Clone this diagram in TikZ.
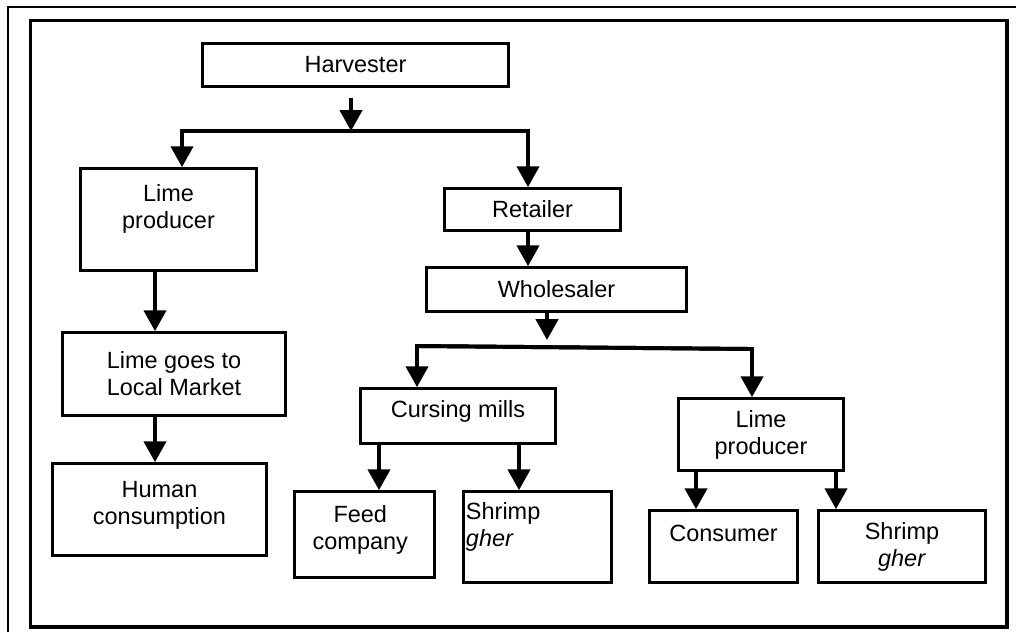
\documentclass[tikz,border=0pt]{standalone}
\usepackage{fontspec}
\setmainfont{Liberation Sans}
\usetikzlibrary{arrows.meta,calc}

\begin{document}
\begin{tikzpicture}[x=0.025cm,y=-0.025cm,
        font=\fontsize{16.7}{19.2}\selectfont,
        box/.style 2 args={draw,line width=1.9pt,inner sep=0pt,align=center,
            minimum width=#1*0.025cm,minimum height=#2*0.025cm},
        flow/.style={line width=2.8pt,-{Triangle[length=5.2mm,width=5.5mm]}}]
    \useasboundingbox (0,0) rectangle (1016,632);

    % frames
    \draw[line width=0.9pt] (8,632) -- (8,7) -- (1016,7);
    \draw[line width=2.4pt] (30.5,20.5) rectangle (1007,627);

    % boxes
    \node[box={306}{43}] (harv) at (355.5,65) {Harvester};
    \node[box={176}{102},label={[yshift=7.5pt,align=center]center:Lime\\producer}] (limeA) at (168.5,219.5) {};
    \node[box={223}{83}] (market) at (174,374) {Lime goes to\\Local Market};
    \node[box={214}{92},label={[yshift=3.2pt,align=center]center:Human\\consumption}] (human) at (159.5,509.5) {};
    \node[box={176}{42}] (retail) at (532.5,209.5) {Retailer};
    \node[box={260}{44}] (whole) at (556.5,289.5) {Wholesaler};
    \node[box={195}{55},label={[yshift=3.2pt]center:Cursing mills}] (mills) at (458,416) {};
    \node[box={165}{72}] (limeB) at (761,434.5) {Lime\\producer};
    \node[box={140}{86},label={[xshift=-3pt,yshift=3.2pt,align=center]center:Feed\\company}] (feed) at (364.5,534.5) {};
    \node[box={148}{91},label={[anchor=west,inner sep=0pt,xshift=2.5pt,yshift=7.5pt,align=left]west:Shrimp\\\textit{gher}}] (shrimpA) at (537.5,537) {};
    \node[box={148}{72},label={[yshift=9.6pt]center:Consumer}] (consumer) at (723.5,546.5) {};
    \node[box={167}{72}] (shrimpB) at (902,546.5) {Shrimp\\\textit{gher}};

    % arrows
    \coordinate (s1) at (351,131);
    \coordinate (s1L) at (182,131);
    \coordinate (s1R) at (528,131);
    \draw[flow] ($(harv.south -| s1)+(0,10)$) -- (s1);
    \draw[flow] (s1R) -- (s1L) -- (s1L |- limeA.north);
    \draw[flow] (s1L) -- (s1R) -- (s1R |- retail.north);

    \coordinate (a1) at (155,0);
    \draw[flow] (limeA.south -| a1) -- (market.north -| a1);
    \draw[flow] (market.south -| a1) -- (human.north -| a1);

    \draw[flow] (retail.south -| s1R) -- (whole.north -| s1R);

    \coordinate (s2) at (547,340);
    \coordinate (s2L) at (417,346);
    \coordinate (s2R) at (752,349);
    \draw[flow] (whole.south -| s2) -- (s2);
    \draw[flow] (s2R) -- (s2L) -- (s2L |- mills.north);
    \draw[flow] (s2L) -- (s2R) -- (s2R |- limeB.north);

    \coordinate (a2) at (379,0);
    \coordinate (a3) at (519,0);
    \draw[flow] (mills.south -| a2) -- (feed.north -| a2);
    \draw[flow] (mills.south -| a3) -- (shrimpA.north -| a3);
    \coordinate (a4) at (696,0);
    \coordinate (a5) at (836,0);
    \draw[flow] (limeB.south -| a4) -- (consumer.north -| a4);
    \draw[flow] (limeB.south -| a5) -- (shrimpB.north -| a5);
\end{tikzpicture}
\end{document}
